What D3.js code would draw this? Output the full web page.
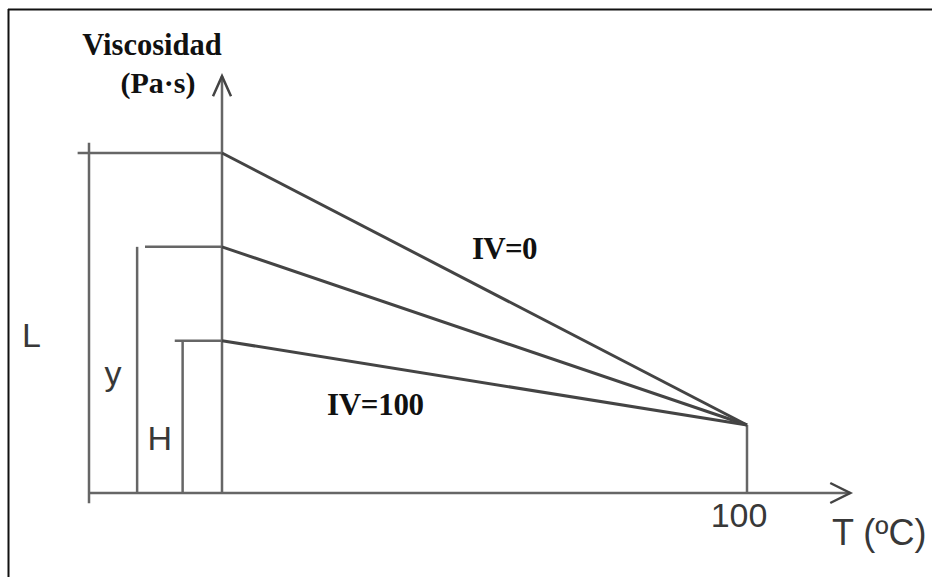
<!DOCTYPE html>
<html>
<head>
<meta charset="utf-8">
<script src="https://cdn.jsdelivr.net/npm/d3@7"></script>
<style>
  body { margin: 0; background: #fff; }
  svg { display: block; }
  .sans { font-family: "Liberation Sans", Arial, sans-serif; fill: #383838; }
  .serif { font-family: "Liberation Serif", "Times New Roman", serif; font-weight: bold; fill: #111; }
</style>
</head>
<body>
<div id="chart"></div>
<script>
const width = 932, height = 577

// curves: viscosity at 40 ºC, all meeting at 100 ºC
const curveNames = ["L", "y", "H"]
const visc40 = [5.0, 3.62, 2.24]
const visc100 = 1.0
const tempPoints = [40, 100]
// where the reference brackets sit (in ºC) and where their top line starts
const bracketT = [24.8, 30.3, 35.5]
const bracketStartT = [23.5, 31.2, 34.6]
const curveLabels = ["IV=0", "IV=100"]
const tickLabels = [100]

const svg = d3.select("#chart")
    .append("svg")
    .attr("width", width)
    .attr("height", height)

// frame (only top and left show in the reference)
svg.append("line").attr("x1", 8).attr("y1", 9.5).attr("x2", width).attr("y2", 9.5)
    .attr("stroke", "#111").attr("stroke-width", 2)
svg.append("line").attr("x1", 8.5).attr("y1", 9).attr("x2", 8.5).attr("y2", height)
    .attr("stroke", "#111").attr("stroke-width", 2)

const x = d3.scaleLinear().domain([40, 100]).range([222, 747])
const y = d3.scaleLinear().domain([0, 1]).range([493, 425])

const grey = "#666"
const dark = "#444"

// x axis with arrow
const xEnd = 111.8
svg.append("line")
    .attr("x1", x(24.7)).attr("x2", x(xEnd))
    .attr("y1", y(0)).attr("y2", y(0))
    .attr("stroke", grey).attr("stroke-width", 2.5)
svg.append("path")
    .attr("d", `M${x(xEnd) - 20},${y(0) - 10}L${x(xEnd)},${y(0)}L${x(xEnd) - 20},${y(0) + 10}`)
    .attr("fill", "none").attr("stroke", dark).attr("stroke-width", 2.5)

// y axis with arrow
const yTop = 6.13
svg.append("line")
    .attr("x1", x(40)).attr("x2", x(40))
    .attr("y1", y(0)).attr("y2", y(yTop))
    .attr("stroke", grey).attr("stroke-width", 2.5)
svg.append("path")
    .attr("d", `M${x(40) - 9},${y(yTop) + 20}L${x(40)},${y(yTop)}L${x(40) + 9},${y(yTop) + 20}`)
    .attr("fill", "none").attr("stroke", dark).attr("stroke-width", 2.5)

// vertical at 100 ºC
svg.append("line")
    .attr("x1", x(100)).attr("x2", x(100))
    .attr("y1", y(0)).attr("y2", y(visc100))
    .attr("stroke", grey).attr("stroke-width", 2.5)

// bracket lines on the left
curveNames.forEach((name, i) => {
    svg.append("line")
        .attr("x1", x(bracketStartT[i])).attr("x2", x(40))
        .attr("y1", y(visc40[i])).attr("y2", y(visc40[i]))
        .attr("stroke", grey).attr("stroke-width", 2.5)
    svg.append("line")
        .attr("x1", x(bracketT[i])).attr("x2", x(bracketT[i]))
        .attr("y1", i == 0 ? y(visc40[i] + 0.15) : y(visc40[i]))
        .attr("y2", i == 0 ? y(-0.15) : y(0))
        .attr("stroke", grey).attr("stroke-width", 2.5)
})

// sloped curves 40 -> 100 ºC
const line = d3.line()
    .x(d => x(d[0]))
    .y(d => y(d[1]))

svg.selectAll(".curve")
    .data(visc40)
    .enter().append("path")
    .attr("class", "curve")
    .attr("d", v => line([[tempPoints[0], v], [tempPoints[1], visc100]]))
    .attr("fill", "none")
    .attr("stroke", dark)
    .attr("stroke-width", 3)

// bracket letters
svg.append("text").attr("class", "sans").attr("x", 22).attr("y", 347)
    .style("font-size", "34px").text(curveNames[0])
svg.append("text").attr("class", "sans").attr("x", (x(bracketT[0]) + x(bracketT[1])) / 2).attr("y", 385)
    .attr("text-anchor", "middle").style("font-size", "34px").text(curveNames[1])
svg.append("text").attr("class", "sans").attr("x", (x(bracketT[1]) + x(bracketT[2])) / 2).attr("y", 450)
    .attr("text-anchor", "middle").style("font-size", "34px").text(curveNames[2])

// tick label and axis title
svg.selectAll(".tick-label")
    .data(tickLabels)
    .enter().append("text")
    .attr("class", "sans tick-label")
    .attr("x", d => x(d) - 8)
    .attr("y", 527)
    .attr("text-anchor", "middle")
    .style("font-size", "34px")
    .text(d => d)
svg.append("text").attr("class", "sans").attr("x", 832).attr("y", 545)
    .style("font-size", "36px").text("T (ºC)")

// y axis title
svg.append("text").attr("class", "serif").attr("x", 152).attr("y", 55)
    .attr("text-anchor", "middle").style("font-size", "30.5px").text("Viscosidad")
svg.append("text").attr("class", "serif").attr("x", 158).attr("y", 93)
    .attr("text-anchor", "middle").style("font-size", "30px").text("(Pa·s)")

// curve labels
svg.append("text").attr("class", "serif").attr("x", 472).attr("y", 259)
    .style("font-size", "31px").style("letter-spacing", "-0.7px").text(curveLabels[0])
svg.append("text").attr("class", "serif").attr("x", 327).attr("y", 415)
    .style("font-size", "31px").style("letter-spacing", "-0.3px").text(curveLabels[1])
</script>
</body>
</html>
